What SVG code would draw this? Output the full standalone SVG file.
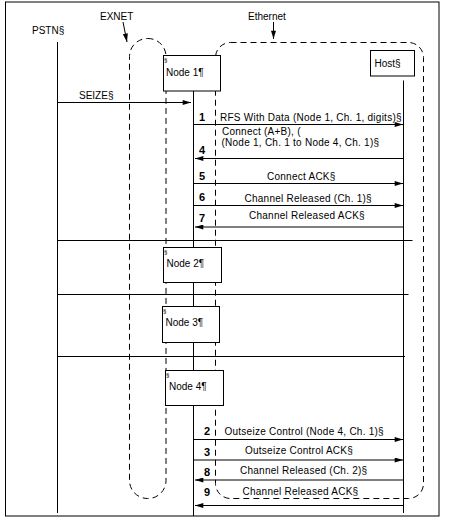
<svg xmlns="http://www.w3.org/2000/svg" width="457" height="524" viewBox="0 0 457 524">
<style>
text{font-family:"Liberation Sans",Arial,sans-serif;font-size:10px;fill:#000}
.m{letter-spacing:0.25px}
.n{font-weight:bold;font-size:11px}
.s{font-size:6px}
.ln{stroke:#000;stroke-width:1;fill:none}
.d{stroke:#000;stroke-width:1;fill:none;stroke-dasharray:6 4}
.box{fill:#fff;stroke:#000;stroke-width:1}
</style>
<defs>
<marker id="ah" viewBox="0 0 10 6" refX="10" refY="3" markerWidth="10" markerHeight="5" markerUnits="userSpaceOnUse" orient="auto">
<path d="M0,0 L10,3 L0,6 z" fill="#000"/>
</marker>
</defs>
<rect x="0" y="0" width="457" height="524" fill="#fff"/>
<rect x="5.5" y="2" width="433.5" height="514" class="ln"/>
<g id="labels">
<text x="32" y="33.5">PSTN§</text>
<text x="100" y="19.5">EXNET</text>
<text x="248" y="19.5">Ethernet</text>
</g>
<g id="networks">
<rect x="129.5" y="38.5" width="36.5" height="460" rx="18" class="d"/>
<rect x="215.5" y="42.5" width="208" height="456" rx="15" class="d"/>
</g>
<g id="lifelines">
<line x1="57.5" y1="42" x2="57.5" y2="513" class="ln"/>
<line x1="193.5" y1="91" x2="193.5" y2="516" class="ln"/>
<line x1="403.5" y1="80.5" x2="403.5" y2="513" class="ln"/>
<line x1="57.5" y1="240.5" x2="412.5" y2="240.5" class="ln"/>
<line x1="57.5" y1="294.5" x2="408.5" y2="294.5" class="ln"/>
<line x1="57.5" y1="356.5" x2="405" y2="356.5" class="ln"/>
</g>
<g id="node1"><rect x="163.5" y="55.5" width="57" height="35.5" class="box"/><text x="164" y="62" class="s">§</text><text x="166" y="76">Node 1¶</text></g>
<g id="node2"><rect x="163.5" y="247.5" width="58" height="35" class="box"/><text x="164" y="254" class="s">§</text><text x="166.5" y="267">Node 2¶</text></g>
<g id="node3"><rect x="162.5" y="306.5" width="57" height="36" class="box"/><text x="163" y="313" class="s">§</text><text x="165.5" y="326">Node 3¶</text></g>
<g id="node4"><rect x="165.5" y="370.5" width="58" height="35" class="box"/><text x="166" y="377" class="s">§</text><text x="169" y="389.5">Node 4¶</text></g>
<g id="host"><rect x="370.5" y="50.5" width="44" height="25.5" class="box"/><text x="374.5" y="66.5">Host§</text></g>
<g id="connectors">
<line x1="123" y1="22" x2="127" y2="42" class="ln" marker-end="url(#ah)"/>
<line x1="273.5" y1="22" x2="273.5" y2="39" class="ln" marker-end="url(#ah)"/>
<line x1="57.5" y1="102.5" x2="191" y2="102.5" class="ln" marker-end="url(#ah)"/>
<line x1="193.5" y1="124.5" x2="403" y2="124.5" class="ln" marker-end="url(#ah)"/>
<line x1="403" y1="158.5" x2="195" y2="158.5" class="ln" marker-end="url(#ah)"/>
<line x1="193.5" y1="183.5" x2="403" y2="183.5" class="ln" marker-end="url(#ah)"/>
<line x1="193.5" y1="205.5" x2="403" y2="205.5" class="ln" marker-end="url(#ah)"/>
<line x1="403" y1="227" x2="195" y2="227" class="ln" marker-end="url(#ah)"/>
<line x1="193.5" y1="439.5" x2="403" y2="439.5" class="ln" marker-end="url(#ah)"/>
<line x1="193.5" y1="460" x2="403" y2="460" class="ln" marker-end="url(#ah)"/>
<line x1="403" y1="480" x2="195" y2="480" class="ln" marker-end="url(#ah)"/>
<line x1="403" y1="505.5" x2="195" y2="505.5" class="ln" marker-end="url(#ah)"/>
</g>
<g id="messages">
<text x="79" y="98.5">SEIZE§</text>
<text x="199" y="121" class="n">1</text>
<text x="220" y="120.5" class="m">RFS With Data (Node 1, Ch. 1, digits)§</text>
<text x="199" y="153.5" class="n">4</text>
<text x="222" y="135" class="m">Connect (A+B), (</text>
<text x="221.5" y="146" class="m">(Node 1, Ch. 1 to Node 4, Ch. 1)§</text>
<text x="199" y="179.5" class="n">5</text>
<text x="267" y="180" class="m">Connect ACK§</text>
<text x="199" y="201" class="n">6</text>
<text x="244.5" y="201.5" class="m">Channel Released (Ch. 1)§</text>
<text x="199" y="222" class="n">7</text>
<text x="249" y="219" class="m">Channel Released ACK§</text>
<text x="204" y="434.5" class="n">2</text>
<text x="224.5" y="435" class="m">Outseize Control (Node 4, Ch. 1)§</text>
<text x="204" y="456" class="n">3</text>
<text x="245" y="453.5" class="m">Outseize Control ACK§</text>
<text x="204" y="475.5" class="n">8</text>
<text x="240" y="473.5" class="m">Channel Released (Ch. 2)§</text>
<text x="204" y="495.5" class="n">9</text>
<text x="242.5" y="494.5" class="m">Channel Released ACK§</text>
</g>
</svg>
